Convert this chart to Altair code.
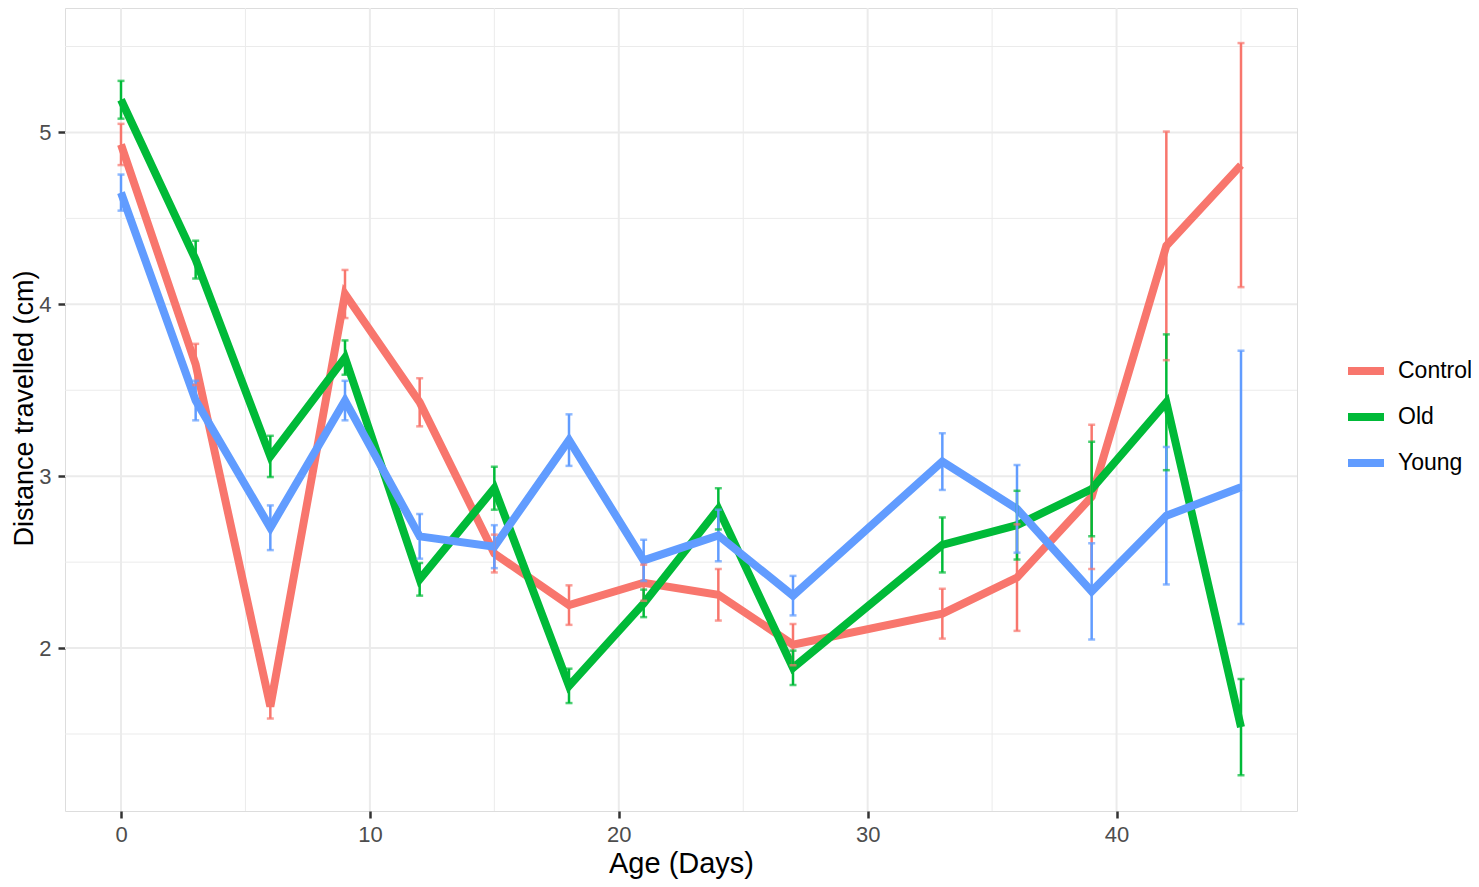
import altair as alt
import pandas as pd

ages = [0, 3, 6, 9, 12, 15, 18, 21, 24, 27, 33, 36, 39, 42, 45]
groups = ["Control", "Old", "Young"]
control_mean = [4.93, 3.65, 1.66, 4.06, 3.43, 2.55, 2.25, 2.38, 2.31, 2.02, 2.20, 2.41, 2.88, 4.34, 4.81]
control_se = [0.12, 0.12, 0.07, 0.14, 0.14, 0.11, 0.115, 0.105, 0.15, 0.12, 0.145, 0.31, 0.42, 0.665, 0.71]
old_mean = [5.19, 4.26, 3.115, 3.69, 2.40, 2.93, 1.78, 2.26, 2.81, 1.885, 2.60, 2.715, 2.925, 3.43, 1.54]
old_se = [0.11, 0.11, 0.12, 0.10, 0.095, 0.125, 0.10, 0.08, 0.12, 0.10, 0.16, 0.20, 0.275, 0.395, 0.28]
young_mean = [4.65, 3.44, 2.70, 3.44, 2.65, 2.59, 3.21, 2.51, 2.655, 2.305, 3.085, 2.81, 2.33, 2.77, 2.935]
young_se = [0.105, 0.115, 0.13, 0.115, 0.13, 0.125, 0.15, 0.12, 0.15, 0.115, 0.165, 0.255, 0.28, 0.40, 0.795]
colors = ["#F8766D", "#00BA38", "#619CFF"]

x_major = [0, 10, 20, 30, 40]
x_minor = [5, 15, 25, 35, 45]
y_major = [2, 3, 4, 5]
y_minor = [1.5, 2.5, 3.5, 4.5, 5.5]

rows = []
for g, m, s in zip(groups, [control_mean, old_mean, young_mean], [control_se, old_se, young_se]):
    for a, mv, sv in zip(ages, m, s):
        rows.append({"group": g, "age": a, "mean": mv, "lo": mv - sv, "hi": mv + sv})
df = pd.DataFrame(rows)

FONT = "Liberation Sans"
xdom = [-2.25, 47.25]
ydom = [1.052, 5.724]
xs = alt.Scale(domain=xdom, nice=False, zero=False)
ys = alt.Scale(domain=ydom, nice=False, zero=False)
cs = alt.Scale(domain=groups, range=colors)

grid_minor_x = alt.Chart(pd.DataFrame({"v": x_minor})).mark_rule(color="#EBEBEB", strokeWidth=1).encode(
    x=alt.X("v:Q", scale=xs))
grid_minor_y = alt.Chart(pd.DataFrame({"v": y_minor})).mark_rule(color="#EBEBEB", strokeWidth=1).encode(
    y=alt.Y("v:Q", scale=ys))
grid_major_x = alt.Chart(pd.DataFrame({"v": x_major})).mark_rule(color="#EBEBEB", strokeWidth=2).encode(
    x=alt.X("v:Q", scale=xs))
grid_major_y = alt.Chart(pd.DataFrame({"v": y_major})).mark_rule(color="#EBEBEB", strokeWidth=2).encode(
    y=alt.Y("v:Q", scale=ys))

base = alt.Chart(df)

lines = base.mark_line(strokeWidth=8, strokeJoin="miter", strokeMiterLimit=4).encode(
    x=alt.X("age:Q", scale=xs,
            axis=alt.Axis(values=x_major, title="Age (Days)", grid=False, domain=False, format="d",
                          tickColor="#333333", tickSize=7, tickWidth=2.5, labelColor="#4D4D4D",
                          labelFontSize=22, labelFont=FONT, labelPadding=6,
                          titleFont=FONT, titleFontSize=29, titleFontWeight="normal",
                          titleColor="black", titlePadding=4)),
    y=alt.Y("mean:Q", scale=ys,
            axis=alt.Axis(values=y_major, title="Distance travelled (cm)", grid=False, domain=False,
                          format="d",
                          tickColor="#333333", tickSize=7, tickWidth=2.5, labelColor="#4D4D4D",
                          labelFontSize=22, labelFont=FONT, labelPadding=7,
                          titleFont=FONT, titleFontSize=27, titleFontWeight="normal",
                          titleColor="black", titleX=-54, titleY=400, titleAngle=270,
                          titleBaseline="top", titleAlign="center")),
    color=alt.Color("group:N", scale=cs,
                    legend=alt.Legend(title=None, orient="none", legendX=1279, legendY=341,
                                      symbolType="stroke", symbolStrokeWidth=8, symbolSize=1296,
                                      labelFont=FONT, labelFontSize=23, labelColor="black",
                                      labelOffset=10, rowPadding=8)),
    detail="group:N",
)

err_rule = base.mark_rule(strokeWidth=2.5).encode(
    x=alt.X("age:Q", scale=xs),
    y=alt.Y("lo:Q", scale=ys),
    y2="hi:Q",
    color=alt.Color("group:N", scale=cs, legend=None),
)
cap_lo = base.mark_tick(orient="horizontal", size=7, thickness=2.5).encode(
    x=alt.X("age:Q", scale=xs),
    y=alt.Y("lo:Q", scale=ys),
    color=alt.Color("group:N", scale=cs, legend=None),
)
cap_hi = base.mark_tick(orient="horizontal", size=7, thickness=2.5).encode(
    x=alt.X("age:Q", scale=xs),
    y=alt.Y("hi:Q", scale=ys),
    color=alt.Color("group:N", scale=cs, legend=None),
)

chart = alt.layer(
    grid_minor_x, grid_minor_y, grid_major_x, grid_major_y, lines, err_rule, cap_lo, cap_hi
).properties(
    width=1232, height=803,
    autosize=alt.AutoSizeParams(type="none"),
    padding={"left": 57, "top": 0, "right": 174, "bottom": 68},
).configure_view(stroke="#333333", strokeWidth=1.5).configure(background="white")

chart.save("out.html", embed_options={"renderer": "svg", "actions": False})
